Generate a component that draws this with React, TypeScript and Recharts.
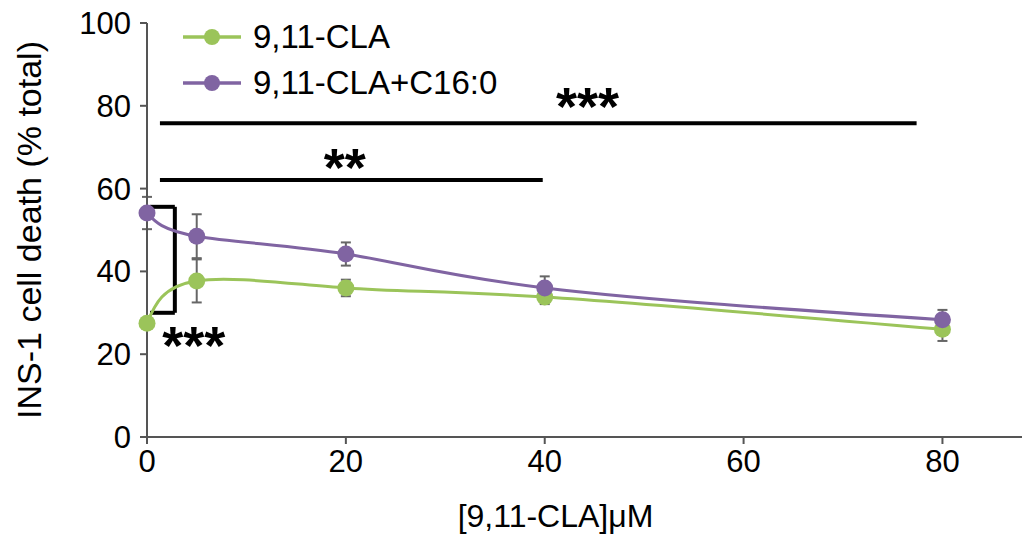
import React from 'react';
import {
  ComposedChart,
  Line,
  XAxis,
  YAxis,
  ErrorBar,
  ReferenceLine,
  ReferenceDot,
  Legend,
} from 'recharts';

// ---- data ----
const concentrations = [0, 5, 20, 40, 80];
const claValues = [27.5, 37.7, 36.0, 33.8, 26.0];
const claErrors = [0.8, 5.2, 2.0, 1.7, 2.8];
const c16Values = [54.1, 48.5, 44.2, 36.0, 28.3];
const c16Errors = [3.9, 5.3, 2.8, 2.8, 2.4];
const xTicks = [0, 20, 40, 60, 80];
const yTicks = [0, 20, 40, 60, 80, 100];

const seriesNames = ['9,11-CLA', '9,11-CLA+C16:0'];
const seriesColors = ['#9bc45a', '#8064a2'];

// significance bars: [x1, x2, y]
const sigBarsX1 = [1.3, 1.3];
const sigBarsX2 = [77.4, 39.8];
const sigBarsY = [75.8, 62.1];
// significance stars: text, x, y
const starTexts = ['***', '**', '***'];
const starX = [44.3, 19.9, 4.7];
const starY = [80.0, 65.3, 22.3];
// bracket at x=0: x-left, x-right, y-top, y-bottom
const bracketXLeft = 0.3;
const bracketXRight = 2.8;
const bracketYTop = 55.6;
const bracketYBottom = 30.0;

const data = concentrations.map((x, i) => ({
  x,
  cla: claValues[i],
  claErr: claErrors[i],
  c16: c16Values[i],
  c16Err: c16Errors[i],
}));

const FONT = "'Liberation Sans', Arial, Helvetica, sans-serif";

const renderLegend = (props: any) => {
  const { payload } = props;
  return (
    <div style={{ fontFamily: FONT }}>
      {(payload || []).map((entry: any, i: number) => (
        <div
          key={i}
          style={{ display: 'flex', alignItems: 'center', height: 46 }}
        >
          <svg width={58} height={20} style={{ display: 'block' }}>
            <line x1={0} y1={10} x2={58} y2={10} stroke={entry.color} strokeWidth={3.5} />
            <circle cx={29} cy={10} r={8} fill={entry.color} />
          </svg>
          <span style={{ marginLeft: 12, fontSize: 33, color: '#000', lineHeight: '46px' }}>
            {entry.value}
          </span>
        </div>
      ))}
    </div>
  );
};

export default function App() {
  return (
    <div style={{ position: 'absolute', left: 0, top: 0, width: 1025, height: 540, background: '#fff', fontFamily: FONT }}>
      <ComposedChart
        width={1025}
        height={540}
        data={data}
        margin={{ top: 23, right: 3, bottom: 0, left: 0 }}
      >
        <XAxis
          type="number"
          dataKey="x"
          domain={[0, 88]}
          ticks={xTicks}
          height={103}
          stroke="#555"
          strokeWidth={2}
          tickSize={7}
          tickMargin={6}
          tick={{ fill: '#000', fontSize: 31 }}
          label={{ value: '[9,11-CLA]\u03bcM', position: 'insideBottom', offset: 13, dx: -29, fill: '#000', fontSize: 32 }}
        />
        <YAxis
          type="number"
          domain={[0, 100]}
          ticks={yTicks}
          width={147}
          stroke="#555"
          strokeWidth={2}
          tickSize={7}
          tickMargin={9}
          tick={{ fill: '#000', fontSize: 31 }}
          label={{
            value: 'INS-1 cell death (% total)',
            angle: -90,
            position: 'insideLeft',
            offset: 29,
            fill: '#000',
            fontSize: 34,
            style: { textAnchor: 'middle' },
          }}
        />
        {sigBarsY.map((y, i) => (
          <ReferenceLine
            key={'sig' + i}
            segment={[{ x: sigBarsX1[i], y }, { x: sigBarsX2[i], y }]}
            stroke="#000"
            strokeWidth={4}
          />
        ))}
        <ReferenceLine
          segment={[{ x: bracketXRight, y: bracketYTop }, { x: bracketXRight, y: bracketYBottom }]}
          stroke="#000"
          strokeWidth={4}
        />
        <ReferenceLine
          segment={[{ x: bracketXLeft, y: bracketYTop }, { x: bracketXRight, y: bracketYTop }]}
          stroke="#000"
          strokeWidth={4}
        />
        <ReferenceLine
          segment={[{ x: bracketXLeft, y: bracketYBottom }, { x: bracketXRight, y: bracketYBottom }]}
          stroke="#000"
          strokeWidth={4}
        />
        {starTexts.map((t, i) => (
          <ReferenceDot
            key={'star' + i}
            x={starX[i]}
            y={starY[i]}
            r={0}
            fill="none"
            stroke="none"
            label={{ value: t, position: 'center', fill: '#000', fontSize: 54, fontWeight: 'bold' }}
          />
        ))}
        <Legend
          layout="vertical"
          align="center"
          verticalAlign="middle"
          content={renderLegend}
          wrapperStyle={{ left: 183, top: 14, width: 420 }}
        />
        <Line
          name={seriesNames[0]}
          dataKey="cla"
          type="natural"
          stroke={seriesColors[0]}
          strokeWidth={3}
          dot={{ r: 8.5, fill: seriesColors[0], stroke: 'none' }}
          activeDot={false}
          isAnimationActive={false}
        >
          <ErrorBar dataKey="claErr" direction="y" width={5} stroke="#666" strokeWidth={2} />
        </Line>
        <Line
          name={seriesNames[1]}
          dataKey="c16"
          type="natural"
          stroke={seriesColors[1]}
          strokeWidth={3}
          dot={{ r: 8.5, fill: seriesColors[1], stroke: 'none' }}
          activeDot={false}
          isAnimationActive={false}
        >
          <ErrorBar dataKey="c16Err" direction="y" width={5} stroke="#666" strokeWidth={2} />
        </Line>
      </ComposedChart>
    </div>
  );
}
